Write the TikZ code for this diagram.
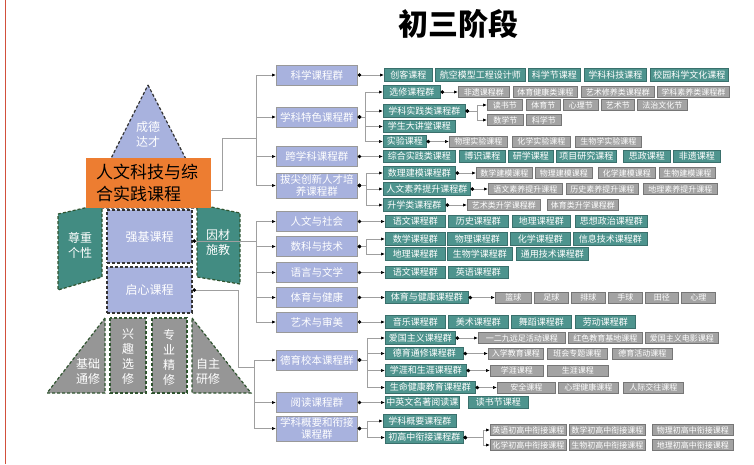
\documentclass[tikz,border=0pt]{standalone}
\usepackage{fontspec}
\setmainfont{Noto Sans CJK SC}
\usetikzlibrary{arrows.meta}

\definecolor{lavbox}{RGB}{168,178,222}
\definecolor{tealbox}{RGB}{78,148,142}
\definecolor{tealline}{RGB}{58,112,108}
\definecolor{greybox}{RGB}{163,163,163}
\definecolor{greyline}{RGB}{118,118,118}
\definecolor{orangebox}{RGB}{237,125,49}
\definecolor{wingteal}{RGB}{66,140,130}
\definecolor{dashgreen}{RGB}{48,84,48}
\definecolor{basegrey}{RGB}{150,150,150}
\definecolor{edgered}{RGB}{210,80,60}

\begin{document}
\begin{tikzpicture}[x=1pt,y=-1pt,
  pri/.style={draw=gray!80, line width=0.8pt, fill=lavbox, text=white,
    font=\fontsize{10.5}{12.5}\selectfont, minimum width=81pt,
    minimum height=20pt, inner sep=1pt, align=center, anchor=west},
  sec/.style={draw=tealline, line width=0.6pt, fill=tealbox, text=white,
    font=\fontsize{9}{10}\selectfont, minimum height=12.5pt,
    inner sep=1pt, anchor=west},
  ter/.style={draw=greyline, line width=0.6pt, fill=greybox, text=white,
    font=\fontsize{8}{9}\selectfont, minimum height=11pt,
    inner sep=1pt, anchor=west},
  rdash/.style={line width=1.2pt, dash pattern=on 3pt off 2pt},
  body/.style={fill=lavbox, draw=black!80, rdash, minimum width=85pt,
    text=white, font=\fontsize{12}{15}\selectfont},
  rtxt/.style={text=white, font=\fontsize{12}{15}\selectfont, align=center},
  ln/.style={draw=gray!75, line width=0.7pt},
  arr/.style={ln, -{Latex[length=4pt,width=3.2pt,color=black]}},
  dln/.style={ln, {Circle[length=3.5pt,color=black]}-},
  darr/.style={ln, {Circle[length=3.5pt,color=black]}-{Latex[length=4pt,width=3.2pt,color=black]}}]
\useasboundingbox (0,0) rectangle (754,464);
\draw[edgered, line width=0.8pt] (5,0) -- (5,464);
\node[font=\fontsize{30}{32}\selectfont\bfseries] (ttl) at (458,24) {初三阶段};

% rocket
\filldraw[fill=lavbox, draw=black!80, rdash] (148,85) -- (211,208) -- (86,208) -- cycle;
\node[rtxt] (cd) at (148,134) {成德\\达才};
\filldraw[fill=wingteal, draw=dashgreen, rdash] (58,214) -- (102,204) -- (102,277) -- (58,290) -- cycle;
\filldraw[fill=wingteal, draw=dashgreen, rdash] (197,204) -- (240,213) -- (240,284) -- (197,277) -- cycle;
\node[rtxt] (zz) at (80,245) {尊重\\个性};
\node[rtxt] (yc) at (218,242) {因材\\施教};
\node[body, minimum height=53pt] (qj) at (149.5,236.5) {强基课程};
\node[body, minimum height=46pt] (qx) at (149.5,290) {启心课程};
\filldraw[fill=basegrey, draw=dashgreen, rdash] (105,318) -- (105,393) -- (47,393) -- cycle;
\filldraw[fill=basegrey, draw=dashgreen, rdash] (110,318) rectangle (146,393);
\filldraw[fill=basegrey, draw=dashgreen, rdash] (152,318) rectangle (187,393);
\filldraw[fill=basegrey, draw=dashgreen, rdash] (192,318) -- (251,393) -- (192,393) -- cycle;
\node[rtxt] (jc) at (88,371) {基础\\通修};
\node[rtxt] (xq) at (128,357) {兴\\趣\\选\\修};
\node[rtxt] (zy) at (169,357) {专\\业\\精\\修};
\node[rtxt] (zz2) at (208,371) {自主\\研修};
\node[fill=orangebox, minimum width=125pt, minimum height=50pt, text width=105pt,
  inner xsep=10pt, align=left, font=\fontsize{17}{22}\selectfont] (ora) at (148.5,183)
  {人文科技与综\\合实践课程};

% primary groups
\node[pri] (ks) at (276,75) {科学课程群};
\node[pri] (xt) at (276,117) {学科特色课程群};
\node[pri] (kx) at (276,156.5) {跨学科课程群};
\node[pri, minimum height=25pt] (bj) at (276,185.5) {拔尖创新人才培\\养课程群};
\node[pri] (rw) at (276,221.5) {人文与社会};
\node[pri] (sk) at (276,246.5) {数科与技术};
\node[pri] (yy) at (276,272.5) {语言与文学};
\node[pri] (ty) at (276,297.5) {体育与健康};
\node[pri] (ys) at (276,322) {艺术与审美};
\node[pri] (dy) at (276,360) {德育校本课程群};
\node[pri] (yd) at (276,402.5) {阅读课程群};
\node[pri, minimum height=25pt] (gy) at (276,428.5) {学科概要和衔接\\课程群};

% 科学课程群
\node[sec,minimum width=48] (ks1) at (384,75) {创客课程};
\node[sec,minimum width=90] (ks2) at (435,75) {航空模型工程设计师};
\node[sec,minimum width=52] (ks3) at (528,75) {科学节课程};
\node[sec,minimum width=62] (ks4) at (584,75) {学科科技课程};
\node[sec,minimum width=78] (ks5) at (650,75) {校园科学文化课程};

% 学科特色课程群
\node[sec,minimum width=57] (xx) at (383,92) {选修课程群};
\node[ter,minimum width=51] (xx1) at (458,92) {非遗课程群};
\node[ter,minimum width=64] (xx2) at (513,92) {体育健康类课程};
\node[ter,minimum width=73] (xx3) at (581,92) {艺术修养类课程群};
\node[ter,minimum width=72] (xx4) at (657,92) {学科素养类课程群};
\node[sec,minimum width=82] (xs) at (383,111) {学科实践类课程群};
\node[ter,minimum width=35] (xs1) at (487,105) {读书节};
\node[ter,minimum width=34] (xs2) at (526,105) {体育节};
\node[ter,minimum width=35] (xs3) at (563,105) {心理节};
\node[ter,minimum width=33] (xs4) at (601,105) {艺术节};
\node[ter,minimum width=50] (xs5) at (637,105) {法治文化节};
\node[ter,minimum width=36] (xs6) at (487,120) {数学节};
\node[ter,minimum width=35] (xs7) at (526,120) {科学节};
\node[sec,minimum width=72] (xd) at (383,126.5) {学生大讲堂课程};
\node[sec,minimum width=43] (sy) at (383,141.5) {实验课程};
\node[ter,minimum width=58] (sy1) at (449,141.5) {物理实验课程};
\node[ter,minimum width=58] (sy2) at (512,141.5) {化学实验课程};
\node[ter,minimum width=66] (sy3) at (575,141.5) {生物学实验课程};

% 跨学科课程群
\node[sec,minimum width=72] (kx1) at (383,156.5) {综合实践类课程};
\node[sec,minimum width=46] (kx2) at (459,156.5) {博识课程};
\node[sec,minimum width=45] (kx3) at (508,156.5) {研学课程};
\node[sec,minimum width=60] (kx4) at (556,156.5) {项目研究课程};
\node[sec,minimum width=47] (kx5) at (623,156.5) {思政课程};
\node[sec,minimum width=47] (kx6) at (673,156.5) {非遗课程};

% 拔尖创新人才培养课程群
\node[sec,minimum width=72] (sl) at (383,173) {数理建模课程群};
\node[ter,minimum width=56] (sl1) at (476,173) {数学建模课程};
\node[ter,minimum width=57] (sl2) at (535,173) {物理建模课程};
\node[ter,minimum width=57] (sl3) at (598,173) {化学建模课程};
\node[ter,minimum width=56] (sl4) at (659,173) {生物建模课程};
\node[sec,minimum width=87] (rs) at (383,189) {人文素养提升课程群};
\node[ter,minimum width=74] (rs1) at (488,189) {语文素养提升课程};
\node[ter,minimum width=72] (rs2) at (566,189) {历史素养提升课程};
\node[ter,minimum width=74] (rs3) at (643,189) {地理素养提升课程};
\node[sec,minimum width=62] (sx) at (383,205) {升学类课程群};
\node[ter,minimum width=73] (sx1) at (467,205) {艺术类升学课程群};
\node[ter,minimum width=71] (sx2) at (547,205) {体育类升学课程群};

% 人文与社会 .. 艺术与审美
\node[sec,minimum width=60] (rw1) at (385,221.5) {语文课程群};
\node[sec,minimum width=60] (rw2) at (448,221.5) {历史课程群};
\node[sec,minimum width=58] (rw3) at (512,221.5) {地理课程群};
\node[sec,minimum width=72] (rw4) at (575,221.5) {思想政治课程群};
\node[sec,minimum width=60] (sk1) at (385,239) {数学课程群};
\node[sec,minimum width=60] (sk2) at (447,239) {物理课程群};
\node[sec,minimum width=60] (sk3) at (510,239) {化学课程群};
\node[sec,minimum width=74] (sk4) at (573,239) {信息技术课程群};
\node[sec,minimum width=60] (sk5) at (385,254) {地理课程群};
\node[sec,minimum width=65] (sk6) at (447,254) {生物学课程群};
\node[sec,minimum width=72] (sk7) at (516,254) {通用技术课程群};
\node[sec,minimum width=60] (yy1) at (385,272.5) {语文课程群};
\node[sec,minimum width=60] (yy2) at (448,272.5) {英语课程群};
\node[sec,minimum width=83] (ty1) at (385,297.5) {体育与健康课程群};
\node[ter,minimum width=36] (ty2) at (495,297.5) {篮球};
\node[ter,minimum width=34] (ty3) at (534,297.5) {足球};
\node[ter,minimum width=34] (ty4) at (571,297.5) {排球};
\node[ter,minimum width=34] (ty5) at (608,297.5) {手球};
\node[ter,minimum width=33] (ty6) at (645,297.5) {田径};
\node[ter,minimum width=34] (ty7) at (681,297.5) {心理};
\node[sec,minimum width=60] (ys1) at (385,322) {音乐课程群};
\node[sec,minimum width=60] (ys2) at (448,322) {美术课程群};
\node[sec,minimum width=60] (ys3) at (511,322) {舞蹈课程群};
\node[sec,minimum width=60] (ys4) at (575,322) {劳动课程群};

% 德育校本课程群
\node[sec,minimum width=70] (ag) at (385,338) {爱国主义课程群};
\node[ter,minimum width=87] (ag1) at (478,338) {一二九远足活动课程};
\node[ter,minimum width=74] (ag2) at (568,338) {红色教育基地课程};
\node[ter,minimum width=73] (ag3) at (645,338) {爱国主义电影课程};
\node[sec,minimum width=78] (dt) at (385,353.5) {德育通修课程群};
\node[ter,minimum width=55] (dt1) at (488,353.5) {入学教育课程};
\node[ter,minimum width=60] (dt2) at (547,353.5) {班会专题课程};
\node[ter,minimum width=60] (dt3) at (612,353.5) {德育活动课程};
\node[sec,minimum width=81] (xy) at (385,370.5) {学涯和生涯课程群};
\node[ter,minimum width=53] (xy1) at (490,370.5) {学涯课程};
\node[ter,minimum width=61] (xy2) at (547,370.5) {生涯课程};
\node[sec,minimum width=90] (sm) at (385,387.5) {生命健康教育课程群};
\node[ter,minimum width=58] (sm1) at (497,387.5) {安全课程};
\node[ter,minimum width=60] (sm2) at (558,387.5) {心理健康课程};
\node[ter,minimum width=60] (sm3) at (623,387.5) {人际交往课程};

% 阅读课程群, 学科概要和衔接课程群
\node[sec,minimum width=72] (yd1) at (385,402.5) {中英文名著阅读课};
\node[sec,minimum width=60] (yd2) at (468,402.5) {读书节课程};
\node[sec,minimum width=73] (gk) at (383,421) {学科概要课程群};
\node[sec,minimum width=78] (cg) at (385,437.5) {初高中衔接课程群};
\node[ter,minimum width=76] (cg1) at (490,430) {英语初高中衔接课程};
\node[ter,minimum width=76] (cg2) at (569,430) {数学初高中衔接课程};
\node[ter,minimum width=81] (cg3) at (652,430) {物理初高中衔接课程};
\node[ter,minimum width=76] (cg4) at (490,445) {化学初高中衔接课程};
\node[ter,minimum width=76] (cg5) at (569,445) {生物初高中衔接课程};
\node[ter,minimum width=81] (cg6) at (652,445) {地理初高中衔接课程};

% trunks
\coordinate (tk1) at (256,138);
\coordinate (tk2) at (256,241);
\coordinate (tk3) at (254,367);
\draw[ln] ([yshift=-7pt]ora.east) -- ++(11,0) |- (tk1);
\draw[arr] (tk1) |- (ks.west);
\draw[arr] (tk1) |- (xt.west);
\draw[arr] (tk1) |- (kx.west);
\draw[arr] (tk1) |- (bj.west);
\draw[dln] (qj.east |- tk2) -- (tk2);
\draw[arr] (tk2) |- (rw.west);
\draw[arr] (tk2) |- (sk.west);
\draw[arr] (tk2) |- (yy.west);
\draw[arr] (tk2) |- (ty.west);
\draw[arr] (tk2) |- (ys.west);
\draw[dln] (qx.east) -- ++(46,0) |- (tk3);
\draw[arr] (tk3) |- (dy.west);
\draw[arr] (tk3) |- (yd.west);
\draw[arr] (tk3) |- (gy.west);

% branches
\draw[darr] (ks.east) -- (ks1.west);
\draw[darr] (xt.east) -- ++(8,0) |- (xx.west);
\draw[darr] (xt.east) -- ++(8,0) |- (xs.west);
\draw[darr] (xt.east) -- ++(8,0) |- (xd.west);
\draw[darr] (xt.east) -- ++(8,0) |- (sy.west);
\draw[darr] (xx.east) -- (xx1.west);
\draw[darr] (xs.east) -- ++(12,0) |- (xs1.west);
\draw[darr] (xs.east) -- ++(12,0) |- (xs6.west);
\draw[darr] (sy.east) -- (sy1.west);
\draw[darr] (kx.east) -- (kx1.west);
\draw[darr] (bj.east) -- ++(9,0) |- (sl.west);
\draw[darr] (bj.east) -- ++(9,0) |- (rs.west);
\draw[darr] (bj.east) -- ++(9,0) |- (sx.west);
\draw[darr] (sl.east) -- (sl1.west);
\draw[darr] (rs.east) -- (rs1.west);
\draw[darr] (sx.east) -- (sx1.west);
\draw[darr] (rw.east) -- (rw1.west);
\draw[darr] (sk.east) -- ++(9,0) |- (sk1.west);
\draw[darr] (sk.east) -- ++(9,0) |- (sk5.west);
\draw[darr] (yy.east) -- (yy1.west);
\draw[darr] (ty.east) -- (ty1.west);
\draw[darr] (ty1.east) -- (ty2.west);
\draw[darr] (ys.east) -- (ys1.west);
\draw[darr] (dy.east) -- ++(10,0) |- (ag.west);
\draw[darr] (dy.east) -- ++(10,0) |- (dt.west);
\draw[darr] (dy.east) -- ++(10,0) |- (xy.west);
\draw[darr] (dy.east) -- ++(10,0) |- (sm.west);
\draw[darr] (ag.east) -- (ag1.west);
\draw[darr] (dt.east) -- (dt1.west);
\draw[darr] (xy.east) -- (xy1.west);
\draw[darr] (sm.east) -- (sm1.west);
\draw[darr] (yd.east) -- (yd1.west);
\draw[darr] (gy.east) -- ++(10,0) |- (gk.west);
\draw[darr] (gy.east) -- ++(10,0) |- (cg.west);
\draw[darr] (cg.east) -- ++(20,0) |- (cg1.west);
\draw[darr] (cg.east) -- ++(20,0) |- (cg4.west);
\end{tikzpicture}
\end{document}
